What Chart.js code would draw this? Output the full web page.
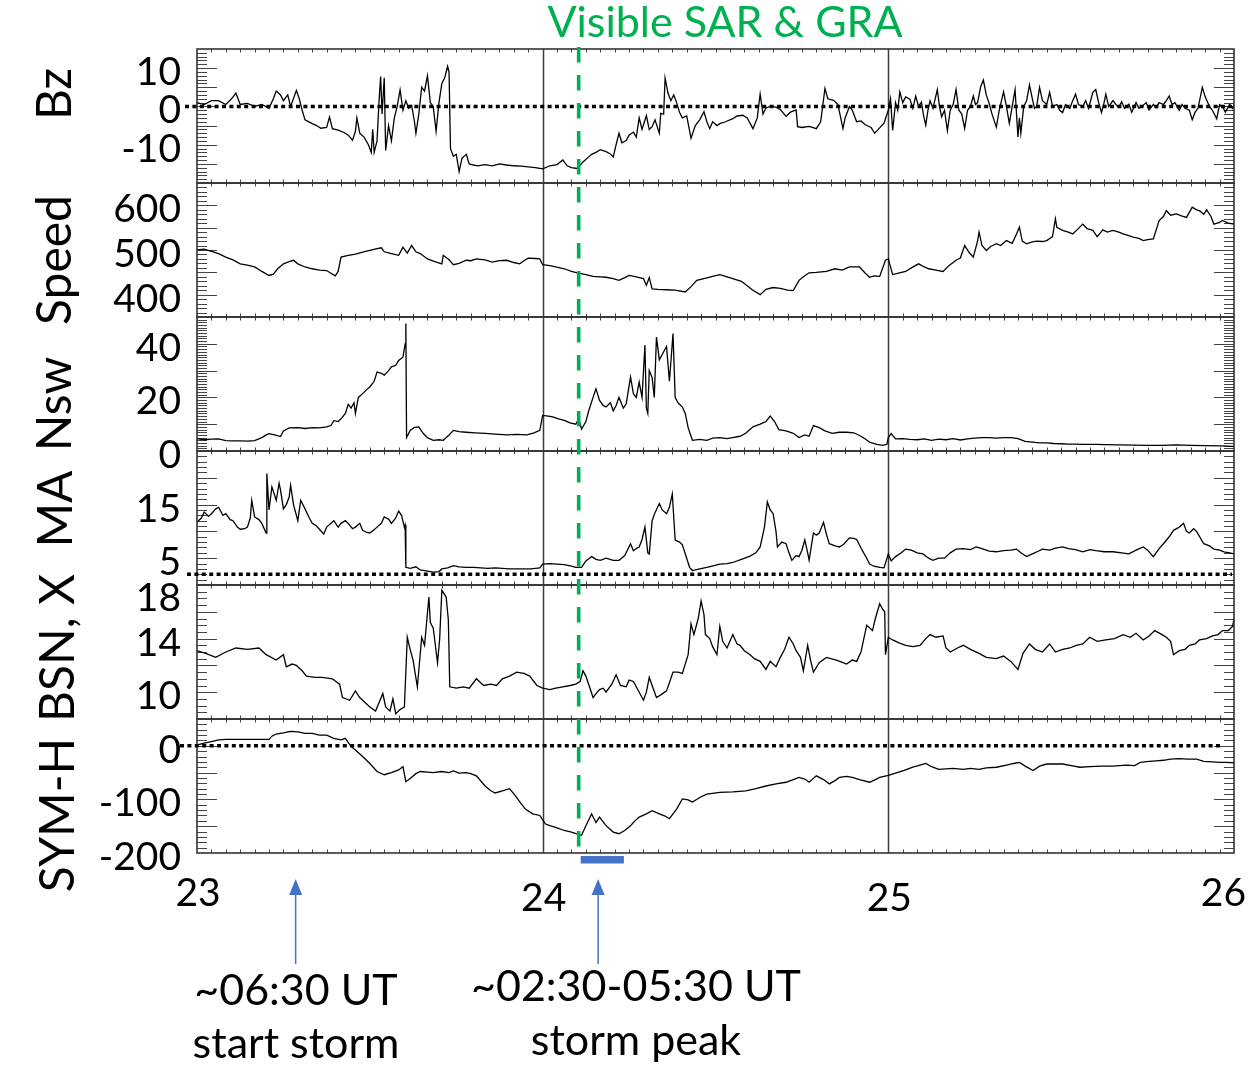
<!DOCTYPE html>
<html><head><meta charset="utf-8">
<script src="https://cdn.jsdelivr.net/npm/chart.js@4/dist/chart.umd.min.js"></script>
<style>html,body{margin:0;padding:0;background:#fff;}canvas{display:block;}</style>
</head><body>
<canvas id="c" width="1249" height="1067"></canvas>
<script>
// ---------- DATA (hours since 23 00:00 UT, value) ----------
const dayTicks = [23, 24, 25, 26];
const bzTicks = [10, 0, -10];
const speedTicks = [600, 500, 400];
const nswTicks = [40, 20, 0];
const maTicks = [15, 5];
const bsnTicks = [18, 14, 10];
const symhTicks = [0, -100, -200];

const bzData = [[0,1],[0.5,0.5],[1,1.5],[1.5,1.5],[2,0.5],[2.4,2],[2.7,3.5],[3,0.5],[3.5,0.8],[4,0],[4.5,0.5],[5,-0.5],[5.3,2],[5.5,4],[5.8,3],[6,1.5],[6.3,3],[6.5,0],[6.9,4.2],[7.1,2],[7.3,-1],[7.5,-3.5],[8,-4.5],[8.3,-5],[8.6,-5.7],[9,-5.5],[9.2,-2.8],[9.4,-5.8],[9.8,-6.2],[10.2,-6.8],[10.5,-7.5],[10.8,-8.8],[11,-6.5],[11.1,-3],[11.3,-7],[11.6,-8],[11.9,-10],[12.1,-12],[12.2,-6],[12.3,-12],[12.5,-9],[12.65,2],[12.75,7.8],[12.85,-2],[13,7.5],[13.1,-11.5],[13.3,-5],[13.5,-9],[13.7,-3],[13.9,0],[14.1,4.3],[14.3,-1],[14.5,1.5],[14.7,-0.5],[14.9,0.3],[15.1,-4],[15.2,-7],[15.4,-2],[15.6,5],[15.8,4],[16,8],[16.2,1],[16.4,0],[16.6,-6.5],[16.8,1],[17,6],[17.2,7.5],[17.4,10.5],[17.5,9],[17.6,-11],[17.8,-13],[18,-12.5],[18.2,-17],[18.4,-13.5],[18.7,-12.5],[18.9,-15],[19.2,-15.3],[19.5,-15.5],[20,-15.2],[20.5,-15.5],[21,-15],[21.5,-15.3],[22,-15.5],[22.5,-15.6],[23,-15.8],[23.5,-16],[24,-16.3],[24.5,-15.5],[25,-15.2],[25.4,-14],[25.7,-15.5],[26,-16],[26.4,-16.2],[26.8,-14.5],[27.1,-13.5],[27.4,-12.5],[27.7,-12],[28,-11.3],[28.4,-11.8],[28.7,-12.4],[28.9,-13.2],[29.1,-10],[29.3,-7],[29.5,-9.5],[29.8,-8.9],[30,-7.5],[30.3,-6.7],[30.5,-8],[30.7,-3],[30.9,-6],[31.2,-2.4],[31.4,-6],[31.6,-5.3],[31.8,-3.5],[32.1,-7],[32.2,-1.8],[32.4,-2],[32.5,7.4],[32.7,3.5],[32.9,1.5],[33.1,3],[33.3,1],[33.5,-1.5],[33.7,-3],[34,-2.5],[34.3,-8.3],[34.6,-5],[34.9,-3.5],[35.2,-1.4],[35.4,-4],[35.6,-5.8],[35.8,-4],[36.1,-5],[36.3,-4.5],[36.7,-4],[37,-3.5],[37.2,-3.2],[37.5,-2.5],[37.9,-2.3],[38.2,-3],[38.6,-5.8],[38.9,-3],[39.1,3.2],[39.3,-2],[39.5,-0.4],[39.8,0],[40.2,-0.2],[40.5,-0.8],[40.9,-2.6],[41.2,-1.5],[41.6,-0.9],[41.7,-5.3],[42,-5.5],[42.5,-5.2],[43,-5.8],[43.3,-4],[43.6,4.7],[43.8,2],[44.2,1.6],[44.5,0.5],[44.85,-5.8],[45,-3],[45.3,0],[45.5,-1],[45.8,-4],[46.1,-3.8],[46.4,-4.8],[46.8,-5.5],[47.05,-7],[47.3,-6],[47.7,-4.4],[48,-1],[48.15,2],[48.3,-6.3],[48.5,1],[48.65,-1],[48.8,3.8],[49,1],[49.2,2.5],[49.5,1.9],[49.7,-0.5],[49.9,2.7],[50.1,0],[50.3,1.1],[50.45,-2.5],[50.6,-4.9],[50.75,-1],[50.9,1.5],[51.1,-0.5],[51.4,4.4],[51.55,0],[51.7,-2.7],[51.9,-1],[52.1,-6.3],[52.3,-1],[52.5,0.5],[52.7,4.4],[52.9,-1],[53.1,-2],[53.3,-5.8],[53.5,-1],[53.7,0],[53.9,2.7],[54.05,0.5],[54.2,1],[54.4,5],[54.6,6.9],[54.8,3],[55,0.8],[55.2,-2],[55.5,-5.4],[55.7,-1],[56,3.8],[56.2,0],[56.4,-4.4],[56.6,0],[56.8,4.4],[56.9,-2],[57,-8],[57.1,-3],[57.2,-7],[57.4,0],[57.6,1.5],[57.8,5.6],[58,2],[58.15,-0.5],[58.3,0],[58.5,5],[58.7,1.5],[59,0.5],[59.2,3.7],[59.4,0],[59.7,0.5],[59.9,-1],[60.1,-1.6],[60.3,0.5],[60.6,-0.5],[60.8,1.5],[61,3.2],[61.2,0.5],[61.5,0],[61.7,1.5],[61.9,-0.5],[62.2,3.7],[62.4,4.4],[62.6,1],[62.8,-1.6],[62.95,0.5],[63.1,3.2],[63.3,0],[63.6,1.5],[63.8,0.5],[64,-0.2],[64.2,1.2],[64.4,-0.5],[64.7,0.6],[64.9,-1.5],[65.2,1],[65.4,-0.5],[65.7,0.3],[65.9,1],[66.1,-0.9],[66.4,0.5],[66.6,-0.3],[66.8,1],[67.1,0.5],[67.3,1.5],[67.5,2.7],[67.7,0.5],[67.9,1],[68.2,-1],[68.4,0.5],[68.6,-0.5],[68.9,-1],[69.1,-3.5],[69.3,-1.5],[69.5,-0.5],[69.8,5],[70,2.5],[70.3,0],[70.5,-1],[70.8,-3.2],[71,0.5],[71.2,0],[71.4,-1.5],[71.7,0.5],[71.9,-0.5],[72,0.5]];

const speedData = [[0,500],[0.5,502],[1,497],[1.5,492],[2,484],[2.5,478],[3,469],[3.5,466],[4,462],[4.5,452],[5,443],[5.3,446],[5.6,458],[6,469],[6.4,474],[6.7,477],[7,469],[7.5,462],[8,458],[8.5,455],[9,454],[9.3,448],[9.6,442],[9.8,452],[10,484],[10.5,488],[11,491],[11.5,495],[12,499],[12.5,503],[12.8,505],[13,496],[13.5,492],[14,488],[14.3,506],[14.6,493],[14.9,510],[15.2,496],[15.5,492],[16,480],[16.5,474],[17,469],[17.1,488],[17.5,478],[17.8,467],[18.2,470],[18.7,477],[19,476],[19.4,480],[20,478],[20.5,473],[21,476],[21.5,477],[22,472],[22.4,469],[22.8,478],[23,482],[23.5,481],[23.8,480],[24,467],[24.5,465],[24.9,462],[25.5,458],[26,452],[26.4,449],[27,445],[27.5,441],[28,440],[28.4,439],[28.9,436],[29.3,432],[29.7,438],[30,443],[30.5,440],[31,436],[31.2,421],[31.4,438],[31.6,413],[32,412],[32.6,411],[33.2,410],[33.9,406],[34.3,418],[34.7,432],[35.2,436],[35.8,441],[36.3,445],[36.8,440],[37.2,436],[37.8,430],[38.2,420],[38.6,410],[39.1,400],[39.5,412],[40,416],[40.5,414],[41,410],[41.4,409],[41.8,432],[42.1,440],[42.5,449],[43,450],[43.7,452],[44.3,458],[44.8,455],[45.3,462],[46,462],[46.4,448],[46.7,439],[47,442],[47.4,441],[47.8,477],[48,480],[48.3,445],[48.7,448],[49.2,452],[49.6,460],[50.1,469],[50.5,462],[50.8,458],[51.3,455],[51.8,452],[52.2,465],[52.7,477],[53,482],[53.3,510],[53.6,495],[53.9,484],[54.2,521],[54.3,540],[54.5,510],[54.8,499],[55.1,508],[55.5,514],[55.8,510],[56.2,521],[56.6,515],[56.9,536],[57.1,551],[57.3,520],[57.6,514],[58,518],[58.3,520],[58.7,519],[59,521],[59.4,530],[59.6,570],[59.7,551],[60.1,544],[60.5,540],[60.8,536],[61.1,545],[61.5,558],[61.8,548],[62.2,544],[62.5,530],[62.9,545],[63.2,540],[63.6,544],[64,540],[64.3,536],[64.7,532],[65,529],[65.4,526],[65.7,521],[66,523],[66.4,525],[66.8,566],[67.1,575],[67.3,588],[67.6,578],[68,581],[68.4,576],[68.7,573],[69.1,596],[69.4,590],[69.6,588],[69.9,580],[70.1,590],[70.4,575],[70.6,558],[71,562],[71.2,566],[71.6,560],[72,558]];

const nswData = [[0,4.6],[0.5,4.2],[1,4.4],[1.5,4.5],[2,3.9],[2.5,3.8],[3,3.8],[3.5,3.7],[4,3.9],[4.5,5],[4.8,6],[5,6.5],[5.4,6],[5.8,5.4],[6,7.5],[6.4,8.6],[7,8.7],[7.5,8.4],[8,8.7],[8.5,8.6],[9,9],[9.3,9.5],[9.5,11.3],[9.8,11],[10,12],[10.3,14],[10.5,17.4],[10.7,16],[10.9,18],[11,14],[11.2,20],[11.5,21.4],[11.8,23],[12,23.9],[12.3,26],[12.5,29.5],[12.8,29],[13,28.3],[13.3,30],[13.5,31.4],[13.8,32],[14,33.8],[14.3,35],[14.45,40],[14.5,47.6],[14.55,5],[14.8,7.7],[15.1,8.8],[15.4,9],[15.7,6.6],[16,5],[16.4,4],[16.8,4.2],[17.1,4],[17.5,6],[17.8,7.7],[18.2,7.2],[18.7,7],[19.3,6.8],[20,6.6],[20.7,6.3],[21.5,6],[22.2,6.2],[22.9,6],[23.4,6.8],[23.8,7.7],[24,13.3],[24.4,13],[24.7,12.7],[25.1,12],[25.5,11.4],[25.9,10.5],[26.3,10],[26.5,12],[26.7,8.2],[27,11],[27.2,15],[27.5,20],[27.7,23.2],[27.95,18.9],[28.2,17],[28.4,16.4],[28.7,18],[28.9,15],[29.1,17],[29.3,20],[29.6,16],[29.8,17.6],[30.1,27.6],[30.3,21.4],[30.5,20],[30.7,25.7],[30.9,20],[31.1,39.5],[31.2,16],[31.3,14],[31.4,30],[31.6,27.4],[31.75,20],[31.9,42.5],[32.1,34],[32.3,36],[32.6,39],[32.8,26],[33.05,43.8],[33.2,20],[33.4,18],[33.7,16.4],[33.9,14],[34.1,8.7],[34.4,4],[34.9,4.3],[35.4,4],[35.8,4.8],[36.3,5],[36.8,4.6],[37.2,5],[37.7,5.5],[38.1,6.6],[38.6,9],[39.1,10],[39.5,11],[39.8,13],[40.1,11],[40.4,8],[40.9,7.5],[41.4,6.6],[41.8,5],[42.2,6],[42.5,5.5],[42.8,9.5],[43.2,8.7],[43.6,7.5],[44.1,6.6],[44.6,7],[45.1,7],[45.6,6.8],[46,5.8],[46.4,4.5],[46.7,3.3],[47.2,2.5],[47.6,2.1],[47.9,2.5],[48,5],[48.2,6.5],[48.5,4.5],[49,4.6],[49.5,4.3],[50,4.2],[50.5,4.5],[51,4],[51.5,4.4],[52,4.2],[52.5,4.6],[53,4.1],[53.5,4.5],[54,4.8],[54.5,5],[55,5],[55.5,4.8],[56,5],[56.5,5],[57,4.6],[57.5,3.6],[58,3.3],[58.5,3],[59,3],[59.5,2.8],[60,2.7],[60.5,2.6],[61,2.6],[61.5,2.5],[62,2.5],[62.5,2.5],[63,2.4],[64,2.3],[65,2.2],[66,2.1],[67,2.1],[68,2.3],[69,2.1],[70,2],[71,1.9],[72,1.7]];

const maData = [[0,11.7],[0.3,12.5],[0.5,13.6],[0.8,12.8],[1,13.3],[1.3,14.2],[1.5,14.5],[1.8,13],[2,13.3],[2.3,12.2],[2.5,12],[2.8,10.8],[3,10.4],[3.3,10.5],[3.5,10.8],[3.7,12.5],[3.8,15.8],[4,12.7],[4.3,12.2],[4.5,11.5],[4.8,9.7],[4.85,20.8],[5,14],[5.2,18.3],[5.5,15.8],[5.7,19],[5.8,17.7],[6,14.2],[6.2,15],[6.4,16.4],[6.5,18.6],[6.7,15],[7,12],[7.2,15.8],[7.5,14.2],[7.8,12.5],[8,11.5],[8.3,11],[8.5,10.4],[8.8,9.5],[9,10.8],[9.3,11.5],[9.5,12],[9.8,10.8],[10,11.5],[10.3,12],[10.5,11.5],[10.8,10.5],[11,10.8],[11.3,11.5],[11.5,10.2],[11.8,9.8],[12,9.7],[12.3,10.3],[12.5,10.8],[12.8,11.5],[13,12.7],[13.3,12.3],[13.5,11.5],[13.8,12.5],[14,13.8],[14.2,13],[14.4,10.8],[14.45,11.2],[14.5,3.3],[14.8,3.1],[15.2,3.4],[15.5,2.8],[16,2.6],[16.4,2.4],[16.8,2.5],[17,3],[17.4,3.2],[17.8,3.6],[18.2,3.4],[18.7,3.3],[19.2,3.3],[19.7,3.2],[20.2,3.1],[20.7,3.2],[21.2,3.1],[21.7,3],[22.2,3],[22.7,3],[23.2,3],[23.8,3.2],[24,3.9],[24.5,4],[25,3.9],[25.5,3.8],[26,3.5],[26.3,3.3],[26.7,3.3],[27,4.5],[27.4,5.3],[27.7,4.8],[28,4.6],[28.4,5],[28.9,4.6],[29.3,4.6],[29.7,5.5],[30.1,7.7],[30.3,6.4],[30.5,6.8],[30.7,7.1],[30.9,8.5],[31.1,10.8],[31.3,6],[31.4,5.8],[31.6,12],[31.8,13.5],[32.1,15.2],[32.3,14],[32.6,13.3],[32.8,14.5],[33,17],[33.2,8.4],[33.5,8],[33.7,7.5],[34,5],[34.2,3.3],[34.4,2.7],[34.9,3],[35.4,3.3],[35.9,3.6],[36.3,3.9],[36.8,4],[37.2,4.2],[37.8,4.8],[38.4,5.4],[38.8,6],[39.1,7.1],[39.4,10.8],[39.6,15.5],[39.8,14],[40,13.3],[40.2,10],[40.3,7.1],[40.6,8],[40.9,7.7],[41.1,6],[41.3,4.6],[41.6,5.5],[41.8,5.3],[42,6.5],[42.2,8.4],[42.4,6],[42.5,4.6],[42.8,9.7],[43,9.3],[43.2,9.7],[43.5,11.7],[43.7,9.5],[43.9,7.7],[44.3,7.3],[44.6,7.1],[44.9,7.6],[45.3,8.8],[45.6,8.7],[45.8,8.5],[46.2,6.4],[46.5,5],[46.7,3.9],[47,3.5],[47.4,3.3],[47.7,3.2],[48,5.8],[48.2,4.5],[48.5,5.3],[48.9,6],[49.2,6.7],[49.6,6.5],[50,6],[50.4,5.8],[50.8,5],[51.1,4.6],[51.5,5],[51.9,5],[52.3,6],[52.7,6.7],[53.2,6.8],[53.7,6.6],[54.1,7.1],[54.5,6.8],[55,6.3],[55.5,6.2],[56,6.4],[56.5,6.5],[56.9,6.7],[57.2,6],[57.6,5.3],[58,5.8],[58.4,6.3],[58.7,6.7],[59.2,6.5],[59.6,6.9],[60.1,7.1],[60.5,6.8],[61,6.6],[61.5,6.2],[62,6.6],[62.4,6.4],[63,6.2],[63.6,6.2],[64.2,6],[64.7,5.8],[65.2,6.5],[65.7,7.1],[66,6.5],[66.4,5.3],[66.8,6.8],[67.1,7.7],[67.5,9],[67.8,10.2],[68.2,10.8],[68.5,11.5],[68.7,10],[68.9,9.7],[69.2,10.5],[69.4,10],[69.9,7.7],[70.3,7.3],[70.6,6.7],[71,6.5],[71.3,6.2],[71.7,6],[72,5.8]];

const bsnData = [[0,13.1],[0.6,12.9],[1.3,12.6],[2,13],[2.7,13.3],[3.5,13.2],[4.3,13.3],[4.8,12.8],[5.5,12.4],[6,12.8],[6.2,11.9],[6.6,12.1],[6.9,12],[7.3,11.6],[7.6,11.2],[8.2,11.1],[8.7,11.1],[9.4,11],[9.9,10.6],[10.1,9.6],[10.6,9.4],[11,10.1],[11.3,9.6],[11.5,9.4],[12,8.9],[12.4,8.6],[12.9,9.9],[13.1,8.9],[13.4,8.6],[13.6,9.5],[13.8,8.4],[14.1,8.7],[14.4,8.9],[14.6,14.1],[14.8,13.2],[15,12.4],[15.3,10.4],[15.6,14.1],[15.8,13.5],[16.1,17.1],[16.2,15.2],[16.4,14.8],[16.7,12.2],[16.85,14],[17,17.6],[17.3,17.1],[17.45,15.4],[17.55,10.4],[18,10.3],[18.5,10.4],[18.9,10.3],[19.4,11],[19.9,10.5],[20.4,10.6],[20.8,10.5],[21.2,11],[21.7,11.2],[22.2,11.5],[22.7,11.4],[23.1,11.2],[23.6,10.5],[24,10.3],[24.5,10.2],[24.9,10.3],[25.4,10.4],[25.9,10.5],[26.3,10.6],[26.6,10.8],[26.8,11.6],[27,11.2],[27.5,9.6],[27.7,9.9],[27.95,10.2],[28.2,10.3],[28.4,10],[28.8,10.6],[29.1,11.3],[29.4,10.5],[29.8,10.4],[30,10.9],[30.3,10.8],[30.6,10.2],[31,9.4],[31.2,10],[31.4,11.1],[31.7,10.2],[31.9,9.6],[32.2,9.8],[32.6,10.1],[32.8,10.7],[33.05,11.5],[33.4,11.5],[33.7,11.4],[34.1,12.8],[34.3,15.1],[34.5,14.3],[34.6,14.7],[34.8,15.5],[35,16.8],[35.2,15.8],[35.3,14.3],[35.6,14],[35.8,13.4],[36.1,12.8],[36.3,14.9],[36.5,13.8],[36.8,13.3],[37,13.8],[37.2,14.3],[37.5,13.6],[37.7,13.5],[38,13.1],[38.4,12.8],[38.7,12.5],[39.1,12.3],[39.5,11.7],[39.8,12.3],[40.2,11.9],[40.5,12.6],[40.8,13.2],[41.1,14.1],[41.4,13.6],[41.6,13.1],[41.9,12.6],[42.1,11.6],[42.4,13.5],[42.6,12.4],[42.8,11.5],[43.2,12.2],[43.7,12.6],[44,12.5],[44.4,12.4],[44.85,12.2],[45.1,12.1],[45.5,12.4],[45.8,12.3],[46.1,13],[46.3,14],[46.5,15],[46.9,14.6],[47.1,15.5],[47.4,16.6],[47.6,16.2],[47.75,16],[47.8,12.8],[48,14.1],[48.3,13.9],[48.7,13.7],[49.2,13.5],[49.7,13.4],[50.2,13.5],[50.6,14],[50.9,14.3],[51.3,14.1],[51.8,14.2],[52,13.3],[52.3,13],[52.8,13.3],[53.2,13.5],[53.7,13.2],[54.3,12.9],[54.8,12.6],[55.5,12.5],[56,12.7],[56.5,12.3],[57,11.7],[57.35,12.9],[57.8,13.6],[58.2,13.2],[58.7,13],[59.2,13.6],[59.6,13],[60.1,13.2],[60.6,13.3],[61.05,13.5],[61.5,13.6],[61.98,14.1],[62.5,13.8],[63.1,13.9],[63.7,14],[64.3,14.3],[64.8,14.1],[65.2,14.4],[65.7,13.9],[66.1,14.2],[66.5,14.6],[67,14.3],[67.3,14.1],[67.6,13.8],[67.8,12.8],[68.2,13.1],[68.6,13.2],[68.9,13.5],[69.3,13.6],[69.6,13.9],[70.1,14],[70.5,14.2],[70.9,14.3],[71.2,14.6],[71.6,14.6],[71.9,14.9],[72,15.5]];

const symhData = [[0,1.5],[0.5,4.8],[1,8],[1.5,11],[2,12],[3,12],[4,12],[5,12],[5.2,18],[5.5,22],[6,24],[6.5,27],[7,26],[7.5,23],[8,23],[8.5,20],[9,20],[9.5,14],[10,11],[10.3,14],[10.7,-1.5],[11,-7.7],[11.5,-20],[12,-33],[12.5,-48],[13,-54],[13.5,-50],[14,-45],[14.3,-39],[14.5,-67],[14.8,-61],[15.2,-52],[15.5,-48],[16,-49],[16.4,-50],[17,-48],[17.5,-50],[17.8,-47],[18.2,-51],[18.7,-50],[19,-52],[19.4,-56],[20,-75],[20.4,-84],[20.7,-88],[21.2,-84],[21.7,-80],[22.1,-93],[22.5,-108],[22.8,-118],[23.3,-127],[23.8,-130],[24,-138],[24.2,-146],[24.5,-149],[24.9,-152],[25.5,-158],[26,-161],[26.3,-164],[26.7,-167],[27,-149],[27.4,-127],[27.7,-143],[27.95,-133],[28.2,-142],[28.4,-149],[28.7,-156],[28.9,-161],[29.3,-164],[29.7,-158],[30.1,-149],[30.4,-140],[30.7,-133],[31.2,-127],[31.6,-121],[32.1,-127],[32.5,-131],[32.8,-136],[33.1,-125],[33.3,-118],[33.7,-99],[34.1,-101],[34.4,-105],[35,-95],[35.4,-90],[36.3,-87],[37.2,-86],[38.1,-84],[38.8,-80],[39.5,-75],[40.2,-71],[40.9,-68],[41.4,-63],[41.8,-59],[42.2,-62],[42.5,-68],[43,-56],[43.5,-63],[43.9,-71],[44.3,-65],[44.6,-59],[45.1,-57],[45.5,-59],[46,-63],[46.7,-68],[47.1,-63],[47.4,-59],[48,-55],[48.5,-51],[49.1,-46],[49.7,-40],[50.2,-36],[50.6,-33],[51,-39],[51.5,-44],[52,-43],[52.5,-42],[53.2,-44],[53.7,-42],[54.3,-44],[54.8,-41],[55.5,-40],[56.2,-36],[56.7,-33],[57.1,-31],[57.5,-38],[58.05,-46],[58.5,-38],[59,-34],[59.5,-34],[60.1,-34],[60.7,-37],[61.3,-40],[62,-39],[62.8,-38],[63.6,-38],[64.5,-36],[65.1,-37],[65.5,-31],[66.1,-29],[66.6,-28],[67.1,-27],[67.6,-25],[68.2,-24],[68.8,-25],[69.4,-25],[69.9,-29],[70.5,-30],[71,-31],[71.5,-31],[72,-32]];

// event times (day-of-month, fractional)
const sarTime = 24 + 2.5 / 24;
const peakWindow = [24 + 2.5 / 24, 24 + 5.5 / 24];
const arrowTimes = [23 + 6.85 / 24, 24 + 3.85 / 24];
const arrowLabels = [['~06:30 UT', 'start storm'], ['~02:30-05:30 UT', 'storm peak']];
const titleText = 'Visible SAR & GRA';

// ---------- CHART ----------
const toXY = arr => arr.map(p => ({x: 23 + p[0] / 24, y: p[1]}));
const FONT = 'Lato, "Liberation Sans", sans-serif';

const panels = [
  {id: 'yBz', ticks: bzTicks, minor: 1, major: 5, title: 'Bz', tY: 94, tX: 71},
  {id: 'ySp', ticks: speedTicks, minor: 10, major: 50, title: 'Speed', tY: 260, tX: 71},
  {id: 'yN', ticks: nswTicks, minor: 1, major: 10, title: 'Nsw', tY: 404, tX: 71},
  {id: 'yMA', ticks: maTicks, minor: 1, major: 5, title: 'MA', tY: 509, tX: 72},
  {id: 'yBS', ticks: bsnTicks, minor: 0.5, major: 2, title: 'BSN, X', tY: 648, tX: 74},
  {id: 'ySY', ticks: symhTicks, minor: 10, major: 50, title: 'SYM-H', tY: 815, tX: 74}
];

function dotted(ctx, y, x0, x1) {
  ctx.save();
  ctx.strokeStyle = '#000';
  ctx.lineWidth = 3.5;
  ctx.setLineDash([4, 3.4]);
  ctx.beginPath(); ctx.moveTo(x0, y); ctx.lineTo(x1, y); ctx.stroke();
  ctx.restore();
}

const decor = {
  id: 'decor',
  beforeDatasetsDraw(chart) {
    const ctx = chart.ctx, xs = chart.scales.x, a = chart.chartArea;
    ctx.save();
    ctx.strokeStyle = '#3a3a3a'; ctx.lineWidth = 1.5;
    [24, 25].forEach(d => {
      const x = Math.round(xs.getPixelForValue(d)) + 0.5;
      ctx.beginPath(); ctx.moveTo(x, a.top); ctx.lineTo(x, a.bottom); ctx.stroke();
    });
    ctx.strokeStyle = '#444'; ctx.lineWidth = 1;
    panels.forEach(p => {
      const s = chart.scales[p.id];
      const n = Math.round((s.max - s.min) / p.minor);
      for (let i = 1; i < n; i++) {
        const v = s.min + i * p.minor;
        const y = Math.round(s.getPixelForValue(v)) + 0.5;
        const isMaj = Math.abs(v / p.major - Math.round(v / p.major)) < 1e-6;
        const L = isMaj ? 20 : 10;
        ctx.beginPath();
        ctx.moveTo(a.left, y); ctx.lineTo(a.left + L, y);
        ctx.moveTo(a.right, y); ctx.lineTo(a.right - L, y);
        ctx.stroke();
      }
    });
    const bounds = panels.map(p => chart.scales[p.id].top).concat([a.bottom]);
    for (let h = 1; h < 72; h++) {
      const x = Math.round(xs.getPixelForValue(23 + h / 24)) + 0.5;
      bounds.forEach((y, i) => {
        const up = i === 0 ? 0 : 3.5, dn = i === bounds.length - 1 ? 0 : 3.5;
        ctx.beginPath(); ctx.moveTo(x, y - up); ctx.lineTo(x, y + dn); ctx.stroke();
      });
    }
    ctx.restore();
  },
  afterDatasetsDraw(chart) {
    const ctx = chart.ctx, xs = chart.scales.x, a = chart.chartArea;
    ctx.save();
    ctx.strokeStyle = '#333'; ctx.lineWidth = 1.6;
    panels.forEach(p => {
      const s = chart.scales[p.id];
      ctx.strokeRect(a.left, s.top, a.right - a.left, s.bottom - s.top);
    });
    dotted(ctx, chart.scales.yBz.getPixelForValue(0), 185, a.right - 2);
    dotted(ctx, chart.scales.yMA.getPixelForValue(2), 187, a.right - 2);
    dotted(ctx, chart.scales.ySY.getPixelForValue(0), 180, a.right - 12);
    const gx = xs.getPixelForValue(sarTime);
    ctx.strokeStyle = '#00B050'; ctx.lineWidth = 3.6; ctx.setLineDash([15.5, 12.5]);
    ctx.beginPath(); ctx.moveTo(gx, 47); ctx.lineTo(gx, 847); ctx.stroke();
    ctx.setLineDash([]);
    const bx0 = xs.getPixelForValue(peakWindow[0]), bx1 = xs.getPixelForValue(peakWindow[1]);
    ctx.fillStyle = '#4472C4';
    ctx.fillRect(bx0 + 2, 856, bx1 - bx0, 7.5);
    ctx.strokeStyle = '#4472C4'; ctx.lineWidth = 1.5;
    arrowTimes.forEach(t => {
      const x = xs.getPixelForValue(t);
      ctx.beginPath(); ctx.moveTo(x, 964); ctx.lineTo(x, 893); ctx.stroke();
      ctx.beginPath(); ctx.moveTo(x, 879); ctx.lineTo(x - 6.5, 895); ctx.lineTo(x + 6.5, 895); ctx.closePath(); ctx.fill();
    });
    ctx.fillStyle = '#000';
    ctx.font = '39px ' + FONT; ctx.textAlign = 'right'; ctx.textBaseline = 'alphabetic';
    panels.forEach(p => {
      const s = chart.scales[p.id];
      p.ticks.forEach(v => {
        let cy = s.getPixelForValue(v) + 3;
        cy = Math.max(cy, s.top + 12);
        ctx.fillText(String(v), 181, cy + 14);
      });
    });
    ctx.font = '48px ' + FONT; ctx.textAlign = 'center';
    panels.forEach(p => {
      ctx.save(); ctx.translate(p.tX, p.tY); ctx.rotate(-Math.PI / 2);
      ctx.fillText(p.title, 0, 0); ctx.restore();
    });
    ctx.font = '39px ' + FONT;
    dayTicks.forEach((d, i) => {
      const x = xs.getPixelForValue(d);
      const last = i === dayTicks.length - 1;
      ctx.textAlign = last ? 'right' : 'center';
      const by = (i === 0 || last) ? 906 : 911;
      ctx.fillText(String(d), last ? 1246 : x + 1, by);
    });
    ctx.font = '43px ' + FONT; ctx.textAlign = 'center';
    const cx = [296, 636];
    arrowLabels.forEach((lines, i) => {
      ctx.fillText(lines[0], cx[i], i === 0 ? 1005 : 1001);
      ctx.fillText(lines[1], cx[i], i === 0 ? 1058 : 1055);
    });
    ctx.fillStyle = '#00B050'; ctx.font = '43px ' + FONT;
    ctx.fillText(titleText, 725, 37);
    ctx.restore();
  }
};

const ds = (data, axis) => ({data: toXY(data), yAxisID: axis, borderColor: '#000', borderWidth: 1.3,
  pointRadius: 0, tension: 0, fill: false});

const yAxis = (min, max, w) => ({type: 'linear', min, max, display: false, position: 'left', stack: 'panels', stackWeight: 1, weight: w});

new Chart(document.getElementById('c'), {
  type: 'line',
  data: {datasets: [
    ds(bzData, 'yBz'), ds(speedData, 'ySp'), ds(nswData, 'yN'),
    ds(maData, 'yMA'), ds(bsnData, 'yBS'), ds(symhData, 'ySY')
  ]},
  options: {
    responsive: false, animation: false, devicePixelRatio: 1,
    layout: {padding: {left: 197, top: 49, right: 15, bottom: 214}},
    plugins: {legend: {display: false}, tooltip: {enabled: false}},
    scales: {
      x: {type: 'linear', min: 23, max: 26, display: false},
      yBz: yAxis(-20, 15, 6),
      ySp: yAxis(350, 650, 5),
      yN: yAxis(0, 50, 4),
      yMA: yAxis(0, 25, 3),
      yBS: yAxis(8, 18, 2),
      ySY: yAxis(-200, 50, 1)
    }
  },
  plugins: [decor]
});
</script>
</body></html>
